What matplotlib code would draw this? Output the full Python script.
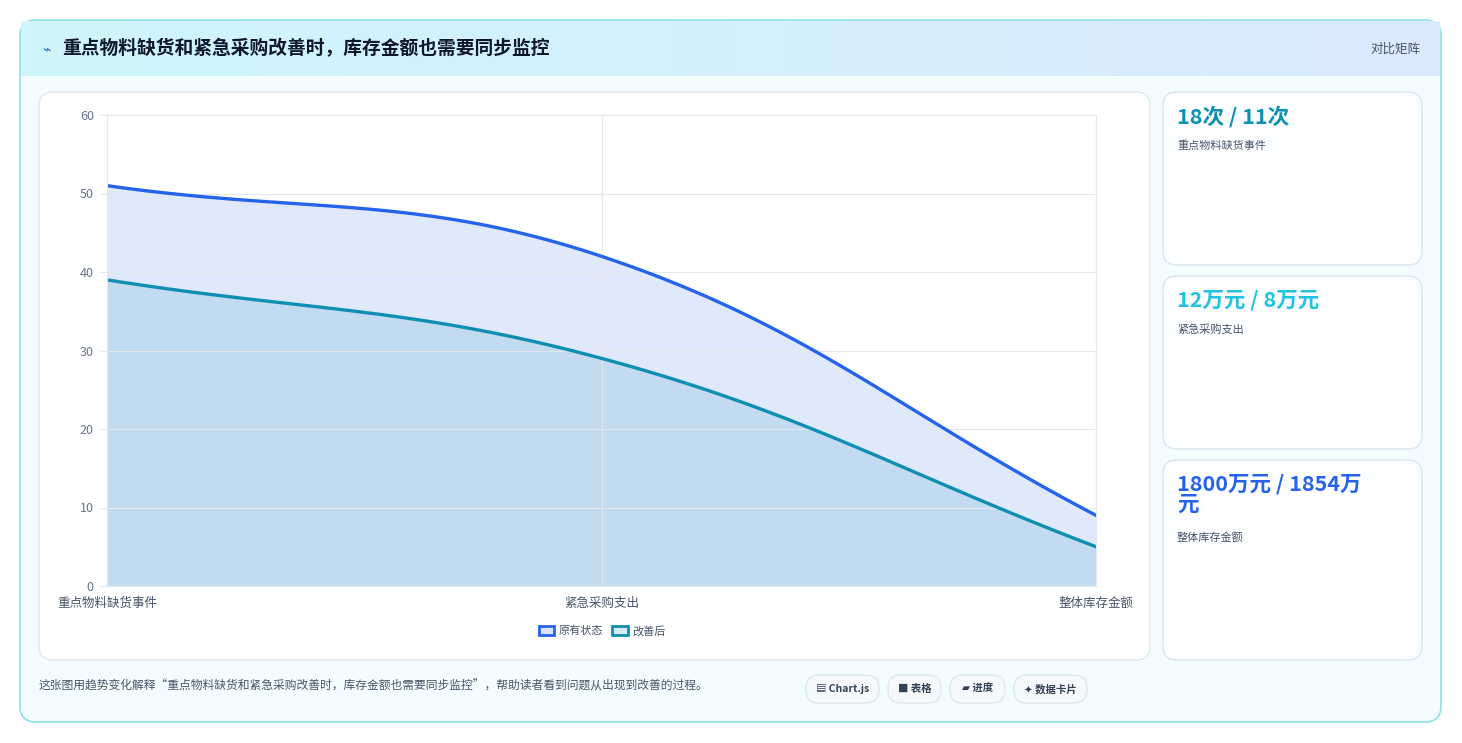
import numpy as np
import matplotlib
matplotlib.use("Agg")
import matplotlib.pyplot as plt
from matplotlib.patches import FancyBboxPatch, Rectangle
from matplotlib.colors import LinearSegmentedColormap

plt.rcParams['font.family'] = ['Noto Sans CJK SC', 'DejaVu Sans']

categories = ["重点物料缺货事件", "紧急采购支出", "整体库存金额"]
original = [51, 42, 9]
improved = [39, 29, 5]
series_names = ["原有状态", "改善后"]
yticks = [0, 10, 20, 30, 40, 50, 60]
title = "重点物料缺货和紧急采购改善时，库存金额也需要同步监控"
cards = [("18次 / 11次", "重点物料缺货事件", "#0e90b0"),
         ("12万元 / 8万元", "紧急采购支出", "#22c3e0"),
         ("1800万元 / 1854万\n元", "整体库存金额", "#2563eb")]
footer = "这张图用趋势变化解释“重点物料缺货和紧急采购改善时，库存金额也需要同步监控”，帮助读者看到问题从出现到改善的过程。"
chips = ["▤ Chart.js", "■ 表格", "▰ 进度", "✦ 数据卡片"]

W, H = 1462, 743
fig = plt.figure(figsize=(W/100, H/100), dpi=100)
fig.patch.set_facecolor("white")
bg = fig.add_axes([0, 0, 1, 1]); bg.set_xlim(0, W); bg.set_ylim(H, 0); bg.axis("off")

def box(x0, y0, x1, y1, fc, ec, r=12, lw=1, z=1):
    bg.add_patch(FancyBboxPatch((x0, y0), x1-x0, y1-y0, boxstyle=f"round,pad=0,rounding_size={r}",
                                fc=fc, ec=ec, lw=lw, zorder=z))

box(20, 20, 1441, 722, "#f3fdff", "#8fe0ea", r=16, lw=1.2)
grad = LinearSegmentedColormap.from_list("g", ["#cff6fb", "#dbe9fd"])
bg.imshow(np.linspace(0, 1, 100)[None, :], cmap=grad, extent=(21, 1440, 76, 21), aspect="auto", zorder=2)
bg.text(42, 49, "⌁", color="#2563eb", fontsize=10, va="center", zorder=3, family=['DejaVu Sans'])
bg.text(62, 49, title, fontsize=13.5, weight="bold", color="#0f172a", va="center", zorder=3)
bg.text(1420, 49, "对比矩阵", fontsize=9, color="#475569", va="center", ha="right", zorder=3)

box(39, 92, 1150, 660, "white", "#dfe7ef", r=14, z=2)
for (y0, y1), (big, small, col) in zip([(92, 265), (276, 449), (460, 660)], cards):
    box(1163, y0, 1422, y1, "#fbfdff", "#d6e6f0", r=14, z=2)
    bg.text(1177, y0+14, big, fontsize=15.5, weight="bold", color=col, va="top", zorder=3, linespacing=0.95)
    ny = y0 + (48 if "\n" not in big else 72)
    bg.text(1177, ny, small, fontsize=8, color="#475569", va="top", zorder=3)

bg.text(39, 686, footer, fontsize=8.5, color="#475569", va="center", zorder=3)
cx = [(806, 879), (888, 941), (950, 1005), (1014, 1087)]
for (a, b), t in zip(cx, chips):
    box(a, 675, b, 703, "#f6f9fc", "#dfe7ef", r=13, z=2)
    bg.text((a+b)/2, 689, t, fontsize=7.5, weight="bold", color="#334155", ha="center", va="center", zorder=3,
            family=['Noto Sans CJK SC', 'DejaVu Sans'])

# chart
L, R, T, B = 107, 1096, 115, 586
ax = fig.add_axes([L/W, 1-B/H, (R-L)/W, (B-T)/H])
ax.set_xlim(0, 2); ax.set_ylim(0, 60)
pxx, pxy = (R-L)/2, (B-T)/60

def spline(vals, t=0.4, n=60):
    P = np.array([[i*pxx, v*pxy] for i, v in enumerate(vals)])
    m = len(P); cps = []
    for i in range(m):
        p0 = P[max(i-1, 0)]; p1 = P[i]; p2 = P[min(i+1, m-1)]
        d01 = np.linalg.norm(p1-p0); d12 = np.linalg.norm(p2-p1)
        s = d01+d12
        fa = t*d01/s if s else 0; fb = t*d12/s if s else 0
        cps.append((p1 - fa*(p2-p0), p1 + fb*(p2-p0)))
    pts = []
    for i in range(m-1):
        a, b, c, d = P[i], cps[i][1], cps[i+1][0], P[i+1]
        u = np.linspace(0, 1, n)[:, None]
        seg = (1-u)**3*a + 3*(1-u)**2*u*b + 3*(1-u)*u**2*c + u**3*d
        pts.append(seg if i == 0 else seg[1:])
    pts = np.vstack(pts)
    return pts[:, 0]/pxx, pts[:, 1]/pxy

x1, y1 = spline(original)
x2, y2 = spline(improved)
ax.fill_between(x1, y1, color="#2563eb", alpha=0.14, lw=0)
ax.fill_between(x2, y2, color="#0e90b0", alpha=0.14, lw=0)
ax.plot(x1, y1, color="#2563eb", lw=2.4)
ax.plot(x2, y2, color="#0e8fb2", lw=2.4)

ax.set_yticks(yticks)
ax.set_xticks([0, 1, 2])
ax.set_xticklabels(categories)
ax.grid(True, color="#e3e8ee", lw=0.8)
for s in ax.spines.values():
    s.set_color("#e3e8ee")
ax.tick_params(axis="y", colors="#64748b", labelsize=9, length=6, color="#e3e8ee")
ax.tick_params(axis="x", colors="#475569", labelsize=9, length=0, pad=8)
for lab in ax.get_xticklabels():
    lab.set_color("#475569")

from matplotlib.patches import Patch
hs = [Patch(fc="#dbe4fb", ec="#2563eb", lw=2), Patch(fc="#d3ebf2", ec="#0e90b0", lw=2)]
fig.legend(hs, series_names, loc="center", bbox_to_anchor=(602/W, 1-631/H), ncol=2, frameon=False,
           fontsize=8, handlelength=1.4, handleheight=0.9, columnspacing=0.8, handletextpad=0.4, labelcolor="#475569")

fig.savefig("out.png", dpi=100)
